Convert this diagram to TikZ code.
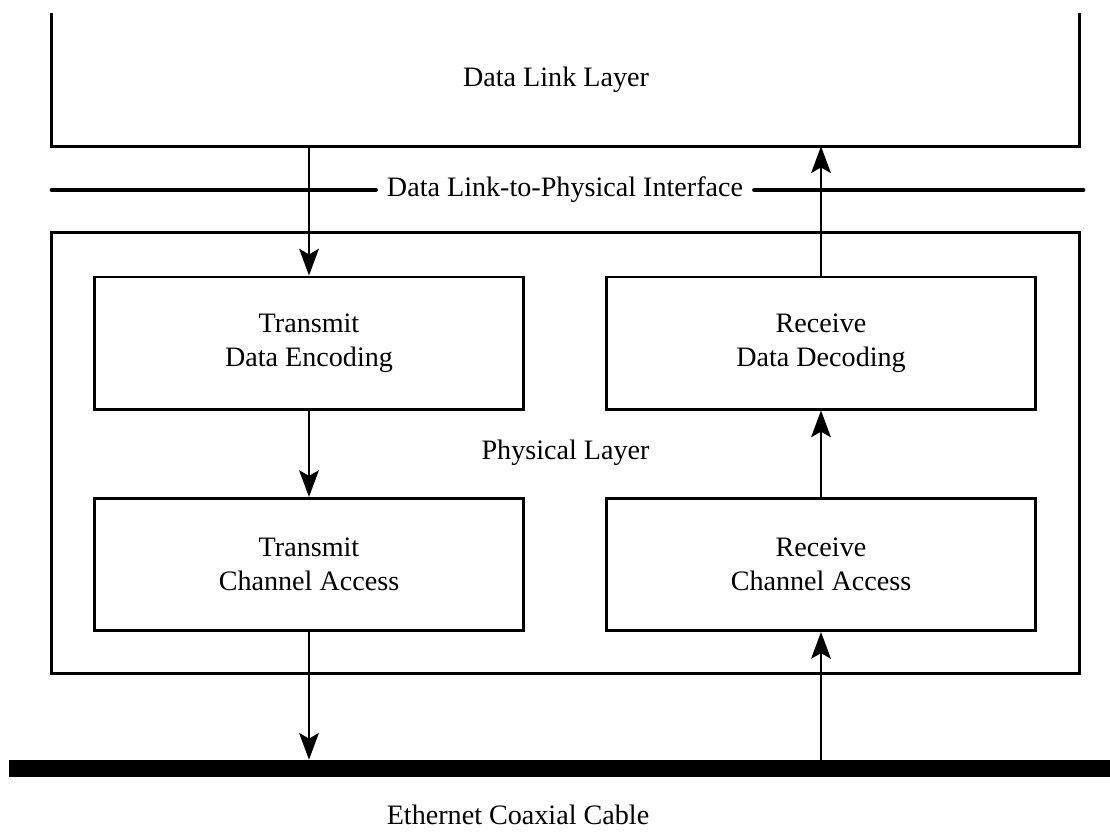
\documentclass[tikz,border=0pt]{standalone}
\usepackage{fontspec}
\setmainfont{Liberation Serif}
\usetikzlibrary{arrows.meta}

\begin{document}
\begin{tikzpicture}[x=0.025cm, y=-0.025cm,
    >={Stealth[length=19pt, width=14pt, inset=4pt]},
    every node/.style={font=\fontsize{20}{24}\selectfont},
    block/.style={draw, line width=2.1pt, minimum width=10.725cm, minimum height=3.3cm, align=center, inner sep=0pt},
    flow/.style={->, line width=1.5pt}]
    \useasboundingbox (0,0) rectangle (1110,831);

    % data link layer, open at the top
    \node[minimum width=25.675cm, minimum height=3.325cm] (dll) at (565.5,79.5) {};
    \draw[line width=2.1pt] (dll.north west) -- (dll.south west) -- (dll.south east) -- (dll.north east);
    \node (dlltext) at (556,80) {Data Link Layer};

    % interface line
    \node[inner xsep=8pt] (ifc) at (565,190) {Data Link-to-Physical Interface};
    \coordinate (ifl) at (52,190);
    \coordinate (ifr) at (1083,190);
    \draw[line width=3.5pt, line cap=round] (ifl) -- (ifc.west);
    \draw[line width=3.5pt, line cap=round] (ifc.east) -- (ifr);

    % physical layer
    \node[draw, line width=2.1pt, minimum width=25.675cm, minimum height=11cm] (phy) at (565.5,453) {Physical Layer};
    \node[block] (tde) at (309,343) {Transmit\\Data Encoding};
    \node[block] (rdd) at (821,343) {Receive\\Data Decoding};
    \node[block] (tca) at (309,564.5) {Transmit\\Channel Access};
    \node[block] (rca) at (821,564.5) {Receive\\Channel Access};

    % cable
    \node[fill, inner sep=0pt, minimum width=27.525cm, minimum height=0.425cm] (coax) at (559.5,768.5) {};
    \node (coaxtext) at (518,815) {Ethernet Coaxial Cable};

    \draw[flow] (dll.south -| tde.north) -- (tde.north);
    \draw[flow] (tde) -- (tca);
    \draw[flow] (tca.south) -- (tca.south |- coax.north);
    \draw[flow] (coax.north -| rca.south) -- (rca.south);
    \draw[flow] (rca) -- (rdd);
    \draw[flow] (rdd.north) -- (rdd.north |- dll.south);
  \end{tikzpicture}
\end{document}
